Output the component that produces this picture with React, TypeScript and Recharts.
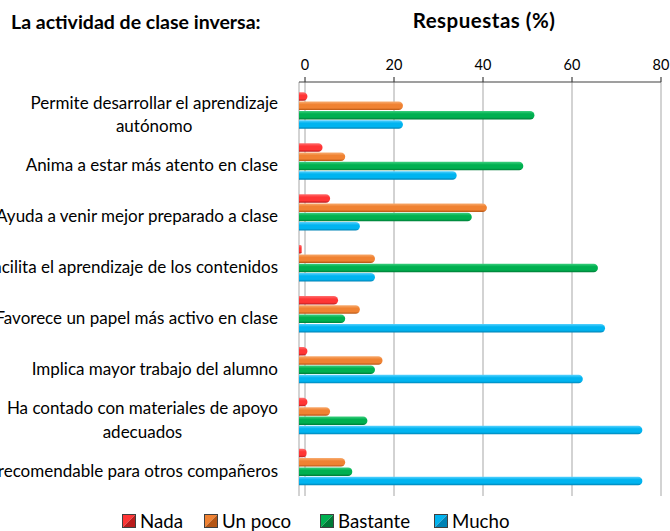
import React from "react";
import { BarChart, Bar, XAxis, YAxis, CartesianGrid } from "recharts";

const categoryLines: string[][] = [
  ["Permite desarrollar el aprendizaje", "autónomo"],
  ["Anima a estar más atento en clase"],
  ["Ayuda a venir mejor preparado a clase"],
  ["Facilita el aprendizaje de los contenidos"],
  ["Favorece un papel más activo en clase"],
  ["Implica mayor trabajo del alumno"],
  ["Ha contado con materiales de apoyo", "adecuados"],
  ["Es recomendable para otros compañeros"],
];
const categories = categoryLines.map((l) => l.join(" "));

const nada = [1.9, 5.3, 7.0, 0.6, 8.8, 1.9, 1.9, 1.7];
const unPoco = [23.4, 10.4, 42.3, 17.1, 13.7, 18.8, 7.0, 10.4];
const bastante = [53.0, 50.5, 38.9, 67.3, 10.4, 17.1, 15.4, 12.0];
const mucho = [23.4, 35.5, 13.7, 17.1, 68.9, 63.9, 77.3, 77.3];

const seriesNames = ["Nada", "Un poco", "Bastante", "Mucho"];
const seriesKeys = ["nada", "unPoco", "bastante", "mucho"];
const xTicks = [0, 20, 40, 60, 80];

const titleText = "La actividad de clase inversa:";
const axisTitle = "Respuestas (%)";

const palette = [
  { light: "#ff7070", main: "#ff3535", dark: "#b81c1c" },
  { light: "#f8ac70", main: "#f08232", dark: "#b45514" },
  { light: "#3ed080", main: "#00b050", dark: "#007a36" },
  { light: "#5ad2ff", main: "#00b4f0", dark: "#0082b4" },
];

const data = categories.map((name, i) => ({
  name,
  nada: nada[i],
  unPoco: unPoco[i],
  bastante: bastante[i],
  mucho: mucho[i],
}));

const FONT = "Lato";
const LABEL_SIZE = 17;

let ctx: CanvasRenderingContext2D | null = null;
function measure(text: string, font: string): number {
  if (!ctx) ctx = document.createElement("canvas").getContext("2d");
  if (!ctx) return text.length * 7;
  ctx.font = font;
  return ctx.measureText(text).width;
}

function YTick(props: any) {
  const { x, y, payload } = props;
  const idx = categories.indexOf(payload.value);
  const lines = idx >= 0 ? categoryLines[idx] : [String(payload.value)];
  const lh = 23.4;
  const y0 = y + 3 - ((lines.length - 1) * lh) / 2;
  const w0 = measure(lines[0], `${LABEL_SIZE}px ${FONT}`);
  return (
    <g>
      {lines.map((ln, i) => (
        <text
          key={i}
          x={i === 0 ? x : x - w0 / 2}
          y={y0 + i * lh}
          textAnchor={i === 0 ? "end" : "middle"}
          dominantBaseline="central"
          fontFamily={FONT}
          fontSize={LABEL_SIZE}
          fill="#000"
        >
          {ln}
        </text>
      ))}
    </g>
  );
}

function LegendSwatch({ c }: { c: { light: string; main: string; dark: string } }) {
  return (
    <svg width={14} height={14} style={{ display: "block" }}>
      <polygon points="0,0 14,0 0,14" fill={c.main} />
      <polygon points="14,0 14,14 0,14" fill={c.dark} />
      <rect x={0.5} y={0.5} width={13} height={13} fill="none" stroke="#404040" strokeWidth={1} />
    </svg>
  );
}

const legendX = [122, 204, 320, 434];

export default function App() {
  return (
    <div style={{ position: "fixed", left: 0, top: 0, width: 670, height: 531, overflow: "hidden", background: "#fff" }}>
      <style>{`.recharts-surface{overflow:visible !important;} .recharts-wrapper{overflow:visible !important;}`}</style>
      <BarChart
        width={670}
        height={531}
        data={data}
        layout="vertical"
        margin={{ top: 60, right: 9, bottom: 35, left: 0 }}
        barSize={8.5}
        barGap={0.8}
        style={{ position: "absolute", left: 0, top: 0, overflow: "visible" }}
      >
        <defs>
          {palette.map((c, i) => (
            <linearGradient key={i} id={`grad${i}`} x1="0" y1="0" x2="0" y2="1">
              <stop offset="0%" stopColor={c.light} />
              <stop offset="35%" stopColor={c.main} />
              <stop offset="75%" stopColor={c.main} />
              <stop offset="100%" stopColor={c.dark} />
            </linearGradient>
          ))}
        </defs>
        <CartesianGrid
          xAxisId="vis"
          horizontal={false}
          vertical={true}
          stroke="#c4c4c4"
          strokeWidth={1.5}
        />
        <XAxis
          xAxisId="vis"
          type="number"
          orientation="top"
          domain={[-1.35, 80]}
          ticks={xTicks}
          allowDataOverflow
          height={22}
          tickSize={5}
          tickMargin={7}
          axisLine={{ stroke: "#404040", strokeWidth: 1.2 }}
          tickLine={{ stroke: "#404040", strokeWidth: 1.2 }}
          tick={{ fontFamily: FONT, fontSize: 14.5, fill: "#000" }}
        />
        <XAxis xAxisId="bar" type="number" orientation="bottom" domain={[0, 81.5]} allowDataOverflow hide height={0} />
        <YAxis
          type="category"
          dataKey="name"
          width={299}
          padding={{ top: 3.3, bottom: 3.3 }}
          axisLine={false}
          tickLine={false}
          tickSize={0}
          tickMargin={21}
          interval={0}
          tick={<YTick />}
        />
        {seriesKeys.map((k, i) => (
          <Bar
            key={k}
            xAxisId="bar"
            dataKey={k}
            name={seriesNames[i]}
            fill={`url(#grad${i})`}
            radius={[0, 4.25, 4.25, 0]}
            isAnimationActive={false}
          />
        ))}
      </BarChart>
      <div
        style={{
          position: "absolute",
          left: 11,
          top: 10,
          fontFamily: FONT,
          fontWeight: 700,
          fontSize: 19.5,
          whiteSpace: "nowrap",
          lineHeight: "24px",
        }}
      >
        {titleText}
      </div>
      <div
        style={{
          position: "absolute",
          left: 384,
          width: 200,
          top: 8,
          textAlign: "center",
          fontFamily: FONT,
          fontWeight: 700,
          fontSize: 20.5,
          letterSpacing: 0.5,
          whiteSpace: "nowrap",
          lineHeight: "24px",
        }}
      >
        {axisTitle}
      </div>
      {seriesNames.map((n, i) => (
        <div
          key={n}
          style={{
            position: "absolute",
            left: legendX[i],
            top: 510,
            display: "flex",
            alignItems: "center",
            gap: 4,
            fontFamily: FONT,
            fontSize: 18.7,
            whiteSpace: "nowrap",
            lineHeight: "22px",
          }}
        >
          <LegendSwatch c={palette[i]} />
          <span>{n}</span>
        </div>
      ))}
    </div>
  );
}
